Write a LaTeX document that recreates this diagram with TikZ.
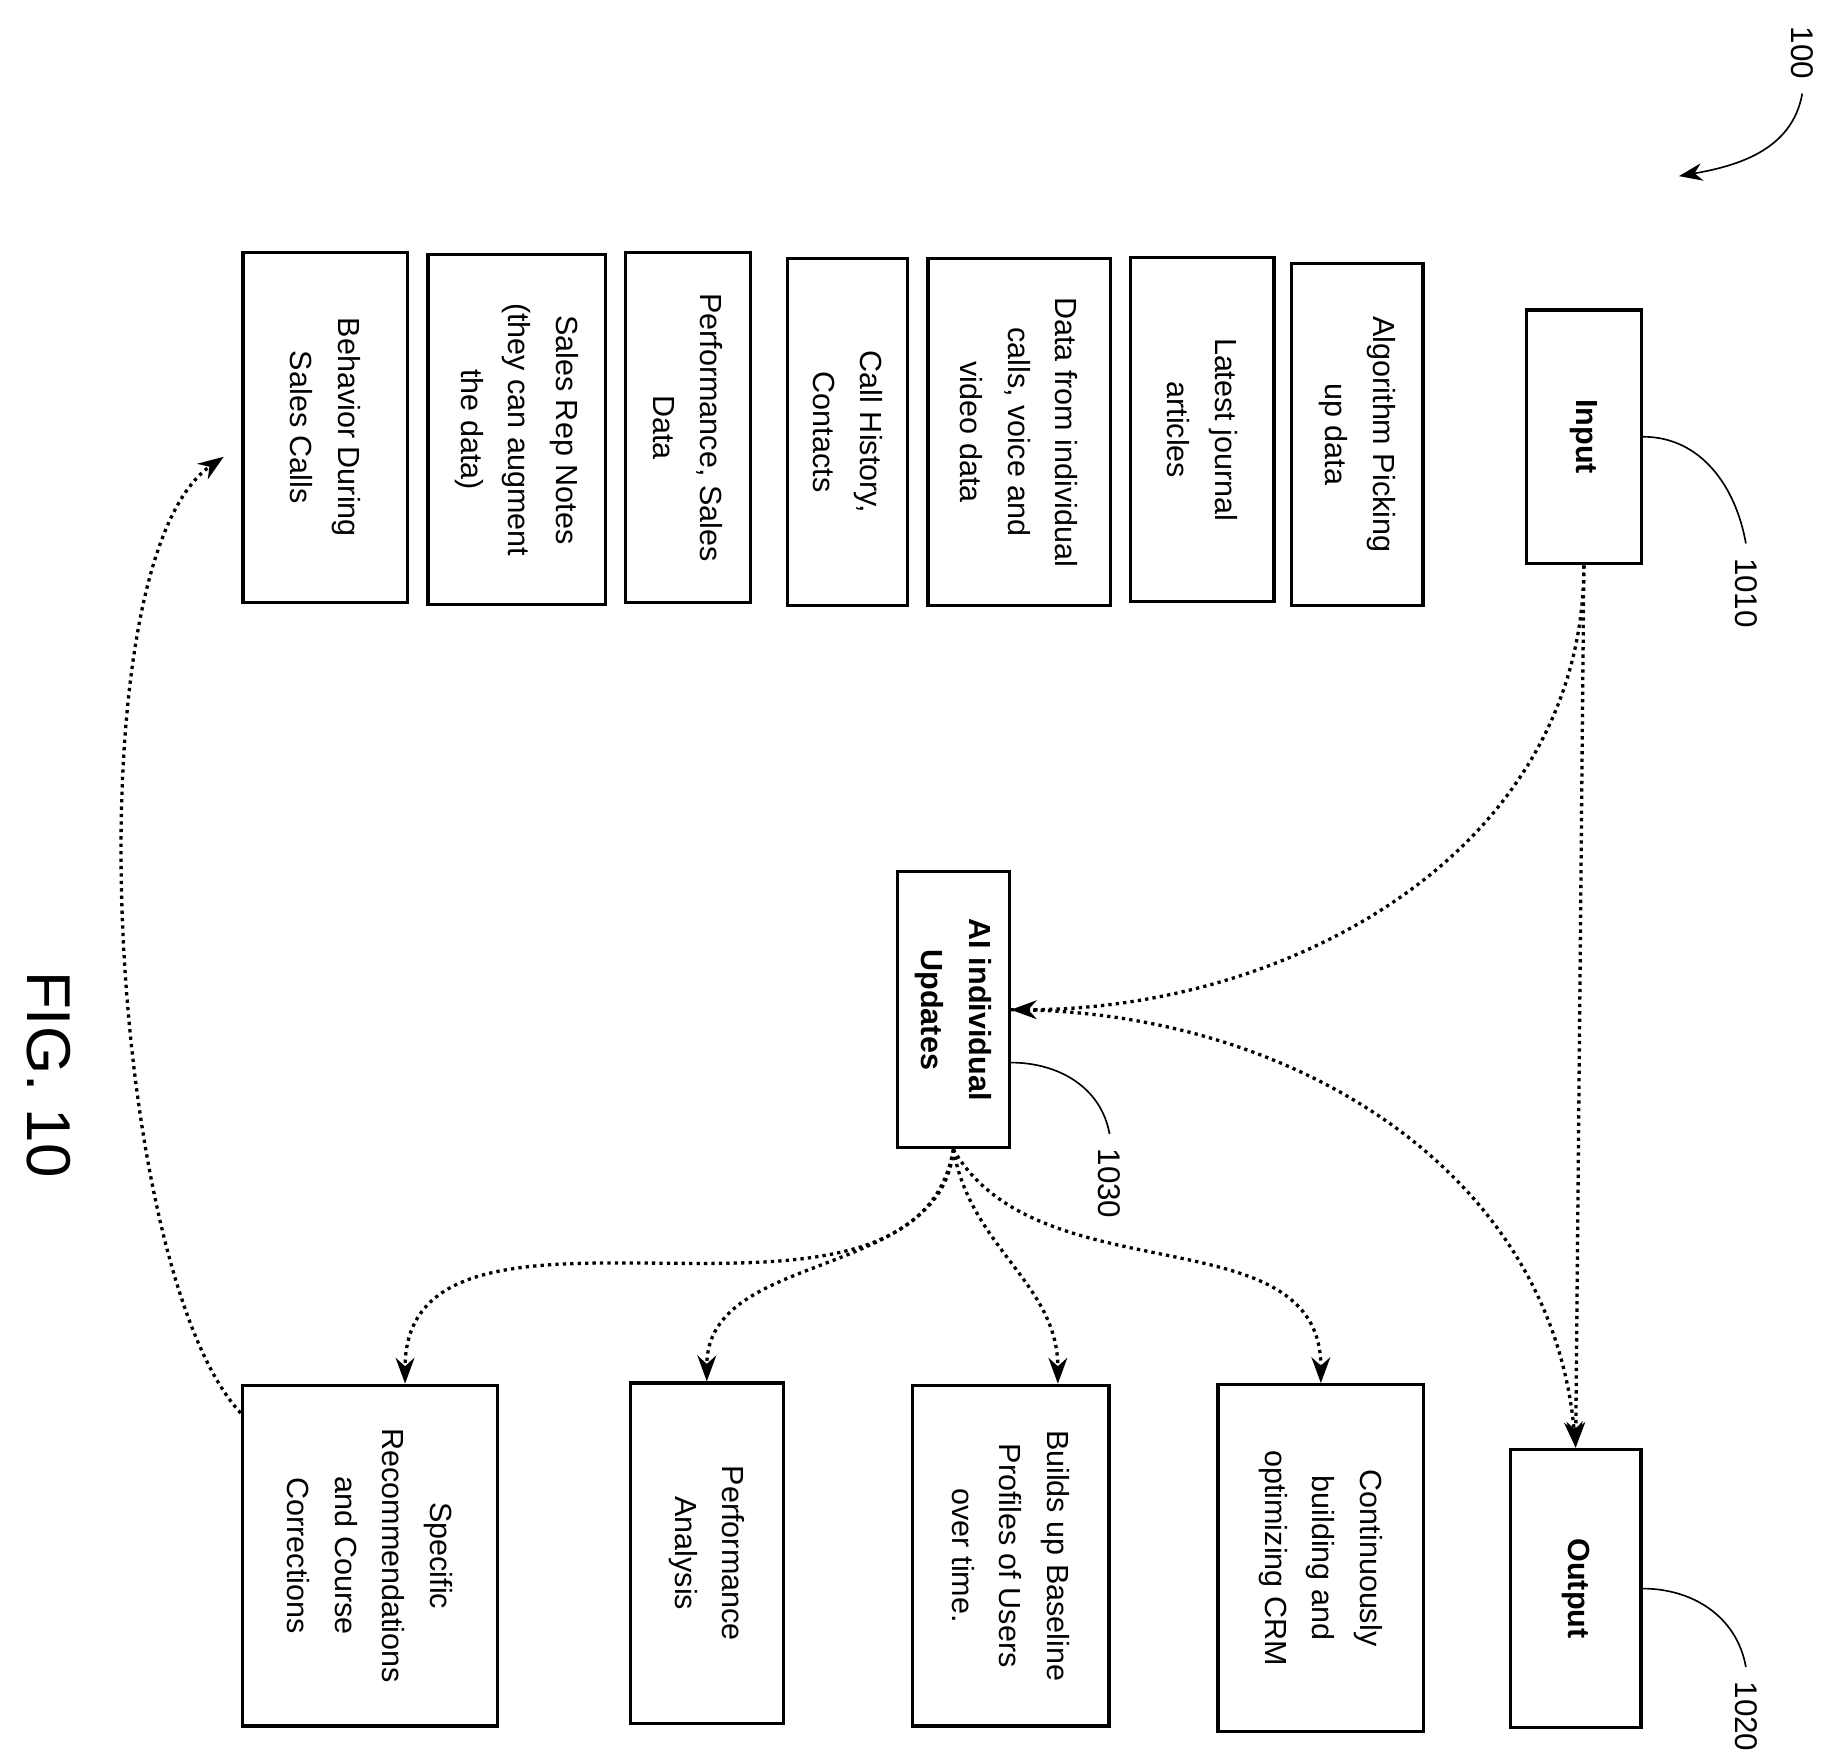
\documentclass[tikz,border=0pt]{standalone}
\usepackage{fontspec}
\setmainfont{Liberation Sans}
\usetikzlibrary{arrows.meta,calc}
\begin{document}
\begin{tikzpicture}
		[x=0.01cm,y=-0.01cm,
		box/.style ={rectangle, draw=black, thick, rotate=-90, align=center, inner sep=2pt,
		font=\fontsize{7.4}{11.5}\selectfont},
		bbox/.style ={box, font=\fontsize{7.4}{11.5}\selectfont\bfseries},
		line/.style ={draw, thick, densely dotted, -{Stealth[length=2.2mm,width=1.6mm]}},
		lead/.style ={draw, thin},
		num/.style ={rotate=-90, font=\fontsize{7.6}{9}\selectfont},
		]
		\useasboundingbox (0,0) rectangle (1568,1490);

		% inputs, top row
		\node[box, minimum width=2.98cm, minimum height=1.40cm] (beh) at (277,364) {Behavior During\\Sales Calls};
		\node[box, minimum width=2.98cm, minimum height=1.51cm] (notes) at (440,366) {Sales Rep Notes\\(they can augment\\the data)};
		\node[box, minimum width=2.98cm, minimum height=1.06cm] (perf) at (586,364) {Performance, Sales\\Data};
		\node[box, minimum width=2.95cm, minimum height=1.02cm] (hist) at (722,368) {Call History,\\Contacts};
		\node[box, minimum width=2.95cm, minimum height=1.55cm] (calls) at (868,368) {Data from individual\\calls, voice and\\video data};
		\node[box, minimum width=2.93cm, minimum height=1.22cm] (jour) at (1024,366) {Latest journal\\articles};
		\node[box, minimum width=2.91cm, minimum height=1.12cm] (algo) at (1156,370) {Algorithm Picking\\up data};
		\node[bbox, minimum width=2.16cm, minimum height=0.98cm] (in) at (1349,372) {Input};

		\node[bbox, minimum width=2.35cm, minimum height=0.95cm] (ai) at (812,860) {AI individual\\Updates};

		% outputs, bottom row
		\node[box, minimum width=2.90cm, minimum height=2.17cm] (spec) at (315,1325) {Specific\\Recommendations\\and Course\\Corrections};
		\node[box, minimum width=2.90cm, minimum height=1.30cm] (anal) at (602,1323) {Performance\\Analysis};
		\node[box, minimum width=2.90cm, minimum height=1.67cm] (base) at (861,1325) {Builds up Baseline\\Profiles of Users\\over time.};
		\node[box, minimum width=2.95cm, minimum height=1.75cm] (crm) at (1125,1327) {Continuously\\building and\\optimizing CRM};
		\node[bbox, minimum width=2.37cm, minimum height=1.11cm] (out) at (1342,1353) {Output};

		\node[rotate=-90, font=\fontsize{15}{18}\selectfont] (fig) at (42,915) {FIG. 10};

		% reference numerals
		\node[num] (n100) at (1535,45) {100};
		\node[num] (n1010) at (1487,505) {1010};
		\node[num] (n1020) at (1487,1462) {1020};
		\node[num] (n1030) at (945,1008) {1030};
		\coordinate (p100) at (1430,150);
		\draw[lead, -{Stealth[length=2mm]}] (n100.east) to[out=-100,in=10] (p100);
		\draw[lead] (in.north) to[out=0,in=100] (n1010.west);
		\draw[lead] (out.north) to[out=0,in=100] (n1020.west);
		\draw[lead] (ai.north |- 0,905) to[out=0,in=100] (n1030.west);

		% connectors
		\path[line] (in.east) -- (out.west);
		\path[line] (in.east) to[out=-90,in=0] (ai.north);
		\path[line] (ai.north) to[out=0,in=95] (out.west);
		\path[line] (ai.east) to[out=-100,in=90] ($(spec.west)+(30,0)$);
		\path[line] (ai.east) to[out=-95,in=90] (anal.west);
		\path[line] (ai.east) to[out=-80,in=90] ($(base.west)+(40,0)$);
		\path[line] (ai.east) to[out=-60,in=90] (crm.west);
		\path[line] ($(spec.south west)+(0,25)$) .. controls (90,1080) and (60,480) .. ($(beh.south)+(-15,25)$);

	\end{tikzpicture}
\end{document}
